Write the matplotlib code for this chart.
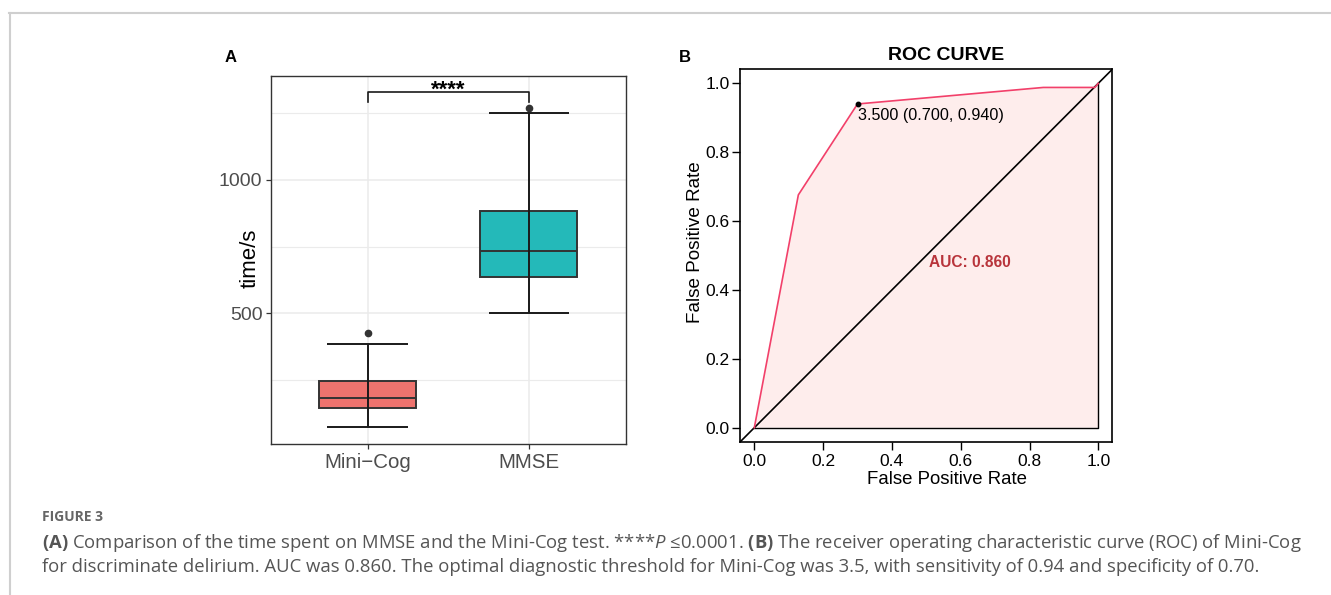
import numpy as np
import matplotlib
matplotlib.use('Agg')
import matplotlib.pyplot as plt

plt.rcParams['font.family'] = ['Liberation Sans', 'DejaVu Sans']
plt.rcParams['mathtext.fontset'] = 'custom'
plt.rcParams['mathtext.rm'] = 'Open Sans'
plt.rcParams['mathtext.it'] = 'Open Sans:italic'
plt.rcParams['mathtext.bf'] = 'Open Sans:bold'

# panel A: box plot stats (time in seconds)
groups = ['Mini\u2212Cog', 'MMSE']
box_colors = ['#EE736E', '#24B9B9']
q1 = [145, 637]
median = [184, 734]
q3 = [245, 884]
whisker_lo = [72, 500]
whisker_hi = [385, 1252]
outliers = [[428], [1270]]
sig_label = '****'
sig_y = 1329
sig_tip = 1293

# panel B: ROC curve
roc_fpr = [0.0, 0.128, 0.30, 0.84, 0.99, 1.0]
roc_tpr = [0.0, 0.676, 0.94, 0.988, 0.988, 1.0]
best_point = (0.30, 0.94)
best_label = '3.500 (0.700, 0.940)'
auc_label = 'AUC: 0.860'
roc_ticks = [0.0, 0.2, 0.4, 0.6, 0.8, 1.0]

W, H = 1331, 595
fig = plt.figure(figsize=(W / 100, H / 100), dpi=100)


def fx(x):
    return x / W


def fy(y):
    return 1 - y / H


def rect(l, t, r, b):
    return [fx(l), fy(b), (r - l) / W, (b - t) / H]


# ---- panel A ----
ax = fig.add_axes(rect(270.7, 75.7, 625.7, 444))
pos = [1, 2]
stats = []
for i in range(len(groups)):
    stats.append(dict(med=median[i], q1=q1[i], q3=q3[i],
                      whislo=whisker_lo[i], whishi=whisker_hi[i],
                      fliers=outliers[i], label=groups[i]))
bp = ax.bxp(stats, positions=pos, widths=0.6, patch_artist=True,
            showcaps=False, showfliers=True,
            whiskerprops=dict(linewidth=0),
            boxprops=dict(edgecolor='#333333', linewidth=1.4),
            medianprops=dict(color='#333333', linewidth=1.4),
            flierprops=dict(marker='o', markersize=4.5,
                            markerfacecolor='#333333', markeredgecolor='#333333'))
for patch, c in zip(bp['boxes'], box_colors):
    patch.set_facecolor(c)
    patch.set_zorder(2)
# errorbar style whiskers drawn through the box
ax.vlines(pos, whisker_lo, whisker_hi, color='#1a1a1a', linewidth=1.4, zorder=3)
for p in pos:
    i = p - 1
    ax.hlines([whisker_lo[i], whisker_hi[i]], p - 0.25, p + 0.25,
              color='#1a1a1a', linewidth=1.4, zorder=3)

# significance bracket
ax.plot([pos[0], pos[0], pos[1], pos[1]], [sig_tip, sig_y, sig_y, sig_tip],
        color='#1a1a1a', linewidth=1.2, zorder=3)
ax.text(np.mean(pos), sig_y - 12, sig_label, ha='center', va='baseline',
        fontsize=16, fontweight='bold')

ax.set_xlim(0.4, 2.6)
ax.set_ylim(10, 1391)
ax.set_xticks(pos)
ax.set_xticklabels(groups)
ax.set_yticks([500, 1000])
ax.set_yticks([250, 750, 1250], minor=True)
ax.grid(True, which='major', color='#EBEBEB', linewidth=1.1, zorder=0)
ax.grid(True, which='minor', axis='y', color='#EBEBEB', linewidth=0.8, zorder=0)
ax.set_axisbelow(True)
ax.tick_params(axis='both', which='major', length=3.5, width=0.9, color='#333333',
               labelcolor='#4D4D4D', labelsize=14, pad=2.5)
ax.tick_params(axis='x', which='major', labelsize=14.8, pad=3)
ax.tick_params(axis='both', which='minor', length=0)
for s in ax.spines.values():
    s.set_color('#333333')
    s.set_linewidth(1.0)
fig.text(fx(250), fy(258), 'time/s', rotation=90, ha='center', va='center',
         fontsize=16)
fig.text(fx(231), fy(58), 'A', ha='center', va='center', fontsize=12,
         fontweight='bold')

# ---- panel B ----
bx = fig.add_axes(rect(740, 69.3, 1112.3, 441.7))
poly_x = roc_fpr + [1.0, 0.0]
poly_y = roc_tpr + [0.0, 0.0]
bx.fill(poly_x, poly_y, facecolor='#FEEDEC', edgecolor='none', zorder=1)
bx.plot(poly_x[-3:], poly_y[-3:], color='black', linewidth=1.0, zorder=1.5)
bx.plot([-0.05, 1.05], [-0.05, 1.05], color='black', linewidth=1.2, zorder=2)
bx.plot(roc_fpr, roc_tpr, color='#F2406A', linewidth=1.2, zorder=3)
bx.plot(*best_point, marker='o', markersize=3.2, color='black', zorder=4)
bx.text(best_point[0] + 0.002, best_point[1] - 0.012, best_label,
        ha='left', va='top', fontsize=11.6)
bx.text(0.627, 0.479, auc_label, ha='center', va='center', fontsize=11.2,
        fontweight='bold', color='#B8343B')
bx.set_xlim(-0.0416, 1.0407)
bx.set_ylim(-0.0407, 1.0407)
bx.set_xticks(roc_ticks)
bx.set_yticks(roc_ticks)
bx.set_xticklabels(['%.1f' % t for t in roc_ticks])
bx.set_yticklabels(['%.1f' % t for t in roc_ticks])
bx.tick_params(axis='x', length=6, width=1.0, labelsize=12.5, pad=3)
bx.tick_params(axis='y', length=6, width=1.0, labelsize=12.5, pad=1.5)
for s in bx.spines.values():
    s.set_linewidth(1.2)
fig.text(fx(946.5), fy(55), 'ROC CURVE', ha='center', va='center',
         fontsize=14, fontweight='bold')
fig.text(fx(946.5), fy(480), 'False Positive Rate', ha='center', va='center',
         fontsize=13.4)
fig.text(fx(695), fy(242), 'False Positive Rate', rotation=90, ha='center',
         va='center', fontsize=13.6)
fig.text(fx(685), fy(57), 'B', ha='center', va='center', fontsize=12,
         fontweight='bold')

# ---- card frame and caption ----
fig.add_artist(plt.Line2D([fx(9), 1.0], [fy(13), fy(13)], color='#CFCFCF',
                          linewidth=1.5))
fig.add_artist(plt.Line2D([fx(9.5), fx(9.5)], [fy(13), 0.0], color='#CFCFCF',
                          linewidth=1.5))
cap_font = ['Open Sans', 'DejaVu Sans']
fig.text(fx(42), fy(521), 'FIGURE 3', ha='left', va='baseline', fontsize=10,
         fontweight='bold', color='#666666', family=cap_font)
line1 = (r'$\mathbf{(A)}$ Comparison of the time spent on MMSE and the Mini-Cog test. '
         r'****$\mathit{P}$ ' + '\u2264'
         + r'0.0001. $\mathbf{(B)}$ The receiver operating characteristic curve (ROC) of Mini-Cog')
line2 = ('for discriminate delirium. AUC was 0.860. The optimal diagnostic threshold '
         'for Mini-Cog was 3.5, with sensitivity of 0.94 and specificity of 0.70.')
fig.text(fx(42), fy(548), line1, ha='left', va='baseline', fontsize=13.3,
         color='#555555', family=cap_font)
fig.text(fx(42), fy(572), line2, ha='left', va='baseline', fontsize=13.3,
         color='#555555', family=cap_font)

fig.savefig('out.png', dpi=100, facecolor='white')
